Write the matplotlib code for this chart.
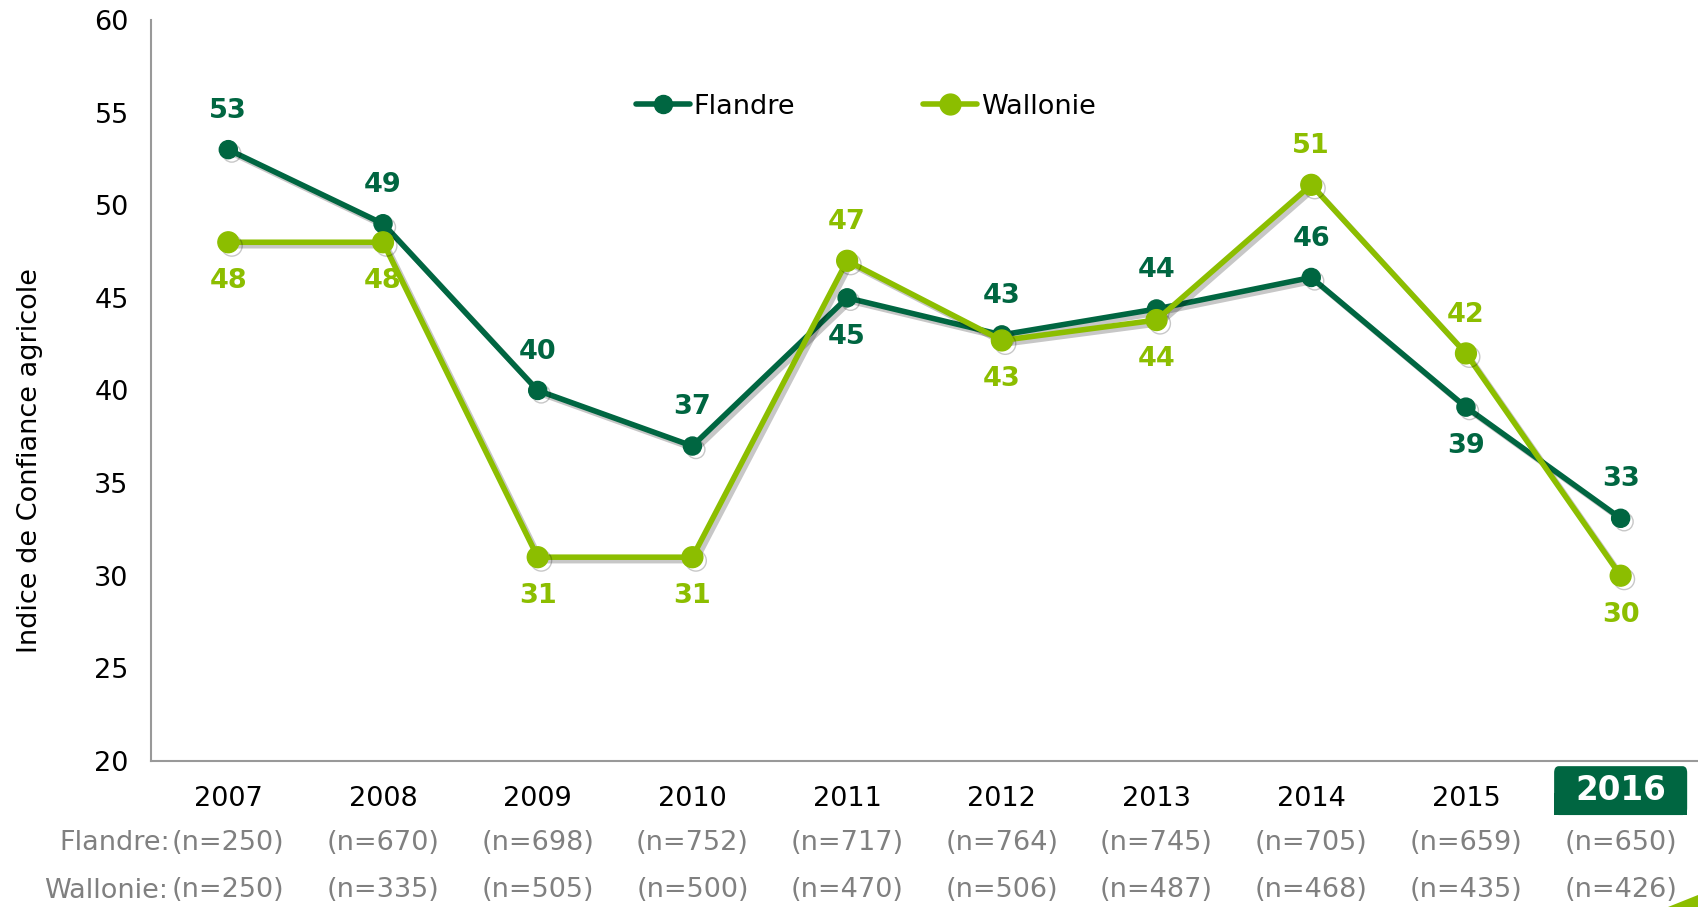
import numpy as np
import matplotlib
matplotlib.use("Agg")
from matplotlib import pyplot as plt
from matplotlib import patheffects as pe
from matplotlib.patches import FancyBboxPatch, Rectangle, Polygon
from matplotlib.lines import Line2D
import matplotlib.transforms as mtransforms

# data
years = ['2007', '2008', '2009', '2010', '2011', '2012', '2013', '2014', '2015', '2016']
flandre = [53, 49, 40, 37, 45, 43, 44.4, 46.1, 39.1, 33.1]
wallonie = [48, 48, 31, 31, 47, 42.7, 43.8, 51.1, 42, 30]
flandreLabels = ['53', '49', '40', '37', '45', '43', '44', '46', '39', '33']
wallonieLabels = ['48', '48', '31', '31', '47', '43', '44', '51', '42', '30']
flandreN = [250, 670, 698, 752, 717, 764, 745, 705, 659, 650]
wallonieN = [250, 335, 505, 500, 470, 506, 487, 468, 435, 426]

# label above (+1) or below (-1) the point
flandreSide = [1, 1, 1, 1, -1, 1, 1, 1, -1, 1]
wallonieSide = [-1, -1, -1, -1, 1, -1, -1, 1, 1, -1]

darkGreen = '#006641'
limeGreen = '#8cbe00'
grey = '#808080'
fs = 19.5

plt.rcParams['font.family'] = ['DejaVu Sans']

fig = plt.figure(figsize=(16.98, 9.07), dpi=100)
ax = fig.add_axes([0.0889, 0.161, 0.9111, 0.817])

x = np.arange(len(years))
shadow = [pe.SimpleLineShadow(offset=(2.5, -2.5), shadow_color='k', alpha=0.22), pe.Normal()]

ax.plot(x, flandre, color=darkGreen, lw=4, marker='o', ms=13,
        solid_capstyle='round', path_effects=shadow, zorder=3)
ax.plot(x, wallonie, color=limeGreen, lw=4, marker='o', ms=15,
        solid_capstyle='round', path_effects=shadow, zorder=4)

for i in range(len(years)):
    ax.annotate(flandreLabels[i], (x[i], flandre[i]), xytext=(0, 28 * flandreSide[i]),
                textcoords='offset points', ha='center', va='center',
                fontsize=fs, fontweight='bold', color=darkGreen)
    ax.annotate(wallonieLabels[i], (x[i], wallonie[i]), xytext=(0, 28 * wallonieSide[i]),
                textcoords='offset points', ha='center', va='center',
                fontsize=fs, fontweight='bold', color=limeGreen)

ax.set_xlim(-0.5, len(years) - 0.5)
ax.set_ylim(20, 60)
ax.set_yticks(range(20, 61, 5))
ax.tick_params(axis='y', length=0, labelsize=fs, pad=16)
ax.tick_params(axis='x', length=0, labelsize=fs, pad=18)
ax.set_xticks(x)
ax.set_xticklabels(years[:-1] + [''])

for s in ['top', 'right']:
    ax.spines[s].set_visible(False)
for s in ['left', 'bottom']:
    ax.spines[s].set_color('#999999')
    ax.spines[s].set_linewidth(1.5)

ax.set_ylabel('Indice de Confiance agricole', fontsize=fs)
ax.yaxis.set_label_coords(-0.070, 0.405)

# highlighted last year (rounded top, square bottom)
trans = mtransforms.blended_transform_factory(ax.transData, ax.transAxes)
ax.add_patch(FancyBboxPatch((x[-1] - 0.43, -0.073), 0.86, 0.066, transform=trans,
                            boxstyle='round,pad=0,rounding_size=0.03', mutation_aspect=0.3,
                            facecolor=darkGreen, edgecolor='none', clip_on=False))
ax.add_patch(Rectangle((x[-1] - 0.43, -0.073), 0.86, 0.03, transform=trans,
                       facecolor=darkGreen, edgecolor='none', clip_on=False))
ax.text(x[-1], -0.040, years[-1], transform=trans, ha='center', va='center',
        fontsize=23.5, fontweight='bold', color='white')

# sample sizes
for i in range(len(years)):
    ax.text(x[i], -0.111, '(n=%d)' % flandreN[i], transform=trans,
            ha='center', va='center', fontsize=fs, color=grey)
    ax.text(x[i], -0.174, '(n=%d)' % wallonieN[i], transform=trans,
            ha='center', va='center', fontsize=fs, color=grey)
ax.text(0.0125, -0.111, 'Flandre:', transform=ax.transAxes, ha='right', va='center',
        fontsize=fs, color=grey)
ax.text(0.011, -0.176, 'Wallonie:', transform=ax.transAxes, ha='right', va='center',
        fontsize=fs, color=grey)

handles = [Line2D([], [], color=darkGreen, lw=4, marker='o', ms=13, solid_capstyle='round'),
           Line2D([], [], color=limeGreen, lw=4, marker='o', ms=15, solid_capstyle='round')]
ax.legend(handles, ['Flandre', 'Wallonie'], loc='center', bbox_to_anchor=(0.462, 0.883),
          ncol=2, frameon=False, fontsize=fs, columnspacing=4.7, handlelength=2.0,
          handletextpad=0.15)

# little decorative wedge in the corner
fig.patches.append(Polygon([(1668 / 1698, 0), (1, 12 / 907), (1, 0)], closed=True,
                           transform=fig.transFigure, facecolor=limeGreen,
                           edgecolor='none'))

fig.savefig('out.png', dpi=100)
